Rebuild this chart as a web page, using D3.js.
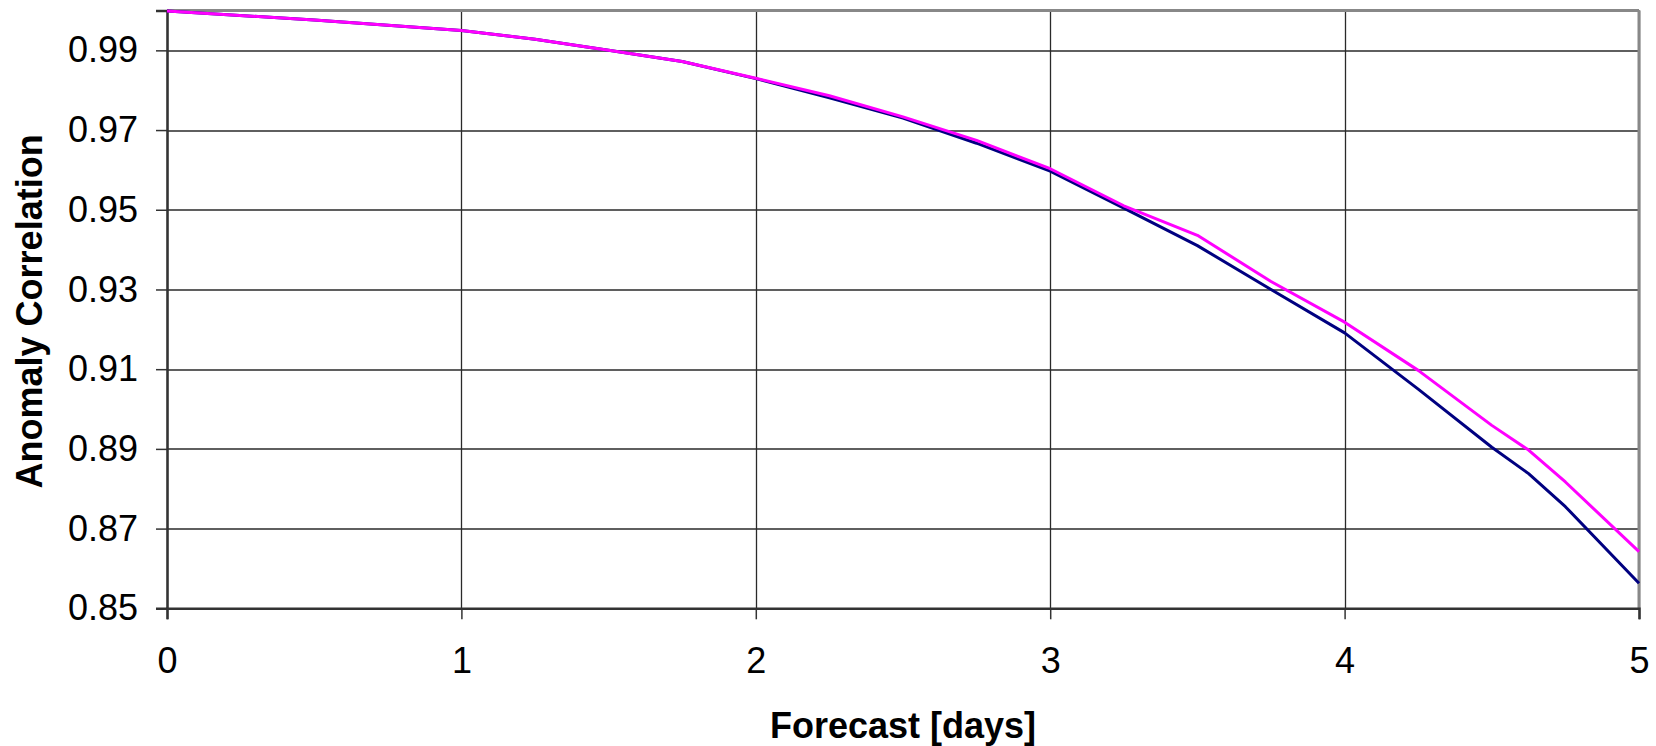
<!DOCTYPE html>
<html>
<head>
<meta charset="utf-8">
<script src="https://cdn.jsdelivr.net/npm/d3@7"></script>
<style>
  html, body { margin: 0; padding: 0; background: #fff; }
  svg { display: block; }
  text { font-family: "Liberation Sans", Arial, sans-serif; fill: #000; }
</style>
</head>
<body>
<svg id="chart" width="1656" height="746"></svg>
<script>
// ---- data ----
const days = [0, 0.5, 1, 1.25, 1.5, 1.75, 2, 2.25, 2.5, 2.75, 3, 3.25, 3.5, 3.75, 4, 4.25, 4.5, 4.625, 4.75, 5];
const seriesNavy = [0.9999, 0.9976, 0.9950, 0.9928, 0.9900, 0.9872, 0.9829, 0.9781, 0.9730, 0.9667, 0.9597, 0.9504, 0.9410, 0.9300, 0.9191, 0.9050, 0.8904, 0.8838, 0.8755, 0.8563];
const seriesMagenta = [0.9999, 0.9976, 0.9950, 0.9928, 0.9900, 0.9872, 0.9830, 0.9786, 0.9733, 0.9674, 0.9603, 0.9510, 0.9436, 0.9320, 0.9218, 0.9097, 0.8959, 0.8897, 0.8817, 0.8642];
const xTicks = [0, 1, 2, 3, 4, 5];
const yTicks = [0.85, 0.87, 0.89, 0.91, 0.93, 0.95, 0.97, 0.99];
const xTitle = "Forecast [days]";
const yTitle = "Anomaly Correlation";

// ---- layout ----
const W = 1656, H = 746;
const m = { left: 167, right: 17, top: 10.5, bottom: 137.7 };
const iw = W - m.left - m.right, ih = H - m.top - m.bottom;

const svg = d3.select("#chart");
const g = svg.append("g").attr("transform", `translate(${m.left},${m.top})`);

const x = d3.scaleLinear().domain([0, 5]).range([0, iw]);
const y = d3.scaleLinear().domain([0.85, 1.0]).range([ih, 0]);

// gridlines
g.append("g").selectAll("line").data(yTicks).join("line")
  .attr("x1", 0).attr("x2", iw)
  .attr("y1", d => Math.round(y(d)) + 0.5).attr("y2", d => Math.round(y(d)) + 0.5)
  .attr("stroke", "#2a2a2a").attr("stroke-width", 1.3);
g.append("g").selectAll("line").data(xTicks).join("line")
  .attr("y1", 0).attr("y2", ih)
  .attr("x1", d => Math.round(x(d)) + 0.5).attr("x2", d => Math.round(x(d)) + 0.5)
  .attr("stroke", "#2a2a2a").attr("stroke-width", 1.3);

// top & right border
g.append("line").attr("x1", 0).attr("x2", iw).attr("y1", 0).attr("y2", 0)
  .attr("stroke", "#888").attr("stroke-width", 3);
g.append("line").attr("x1", iw).attr("x2", iw).attr("y1", 0).attr("y2", ih)
  .attr("stroke", "#888").attr("stroke-width", 3);

// axes
const yAxis = d3.axisLeft(y).tickValues(yTicks).tickFormat(d3.format(".2f")).tickSize(11).tickPadding(18);
const xAxis = d3.axisBottom(x).tickValues(xTicks).tickFormat(d3.format("d")).tickSize(11).tickPadding(28);

const ya = g.append("g").call(yAxis);
ya.select(".domain").attr("stroke", "#333").attr("stroke-width", 2.5);
ya.selectAll(".tick line").attr("stroke", "#333").attr("stroke-width", 1.5);
ya.selectAll(".tick text").attr("font-size", 36).attr("font-family", "Liberation Sans, Arial, sans-serif").attr("fill", "#000");

const xa = g.append("g").attr("transform", `translate(0,${ih})`).call(xAxis);
xa.select(".domain").attr("stroke", "#333").attr("stroke-width", 2.5);
xa.selectAll(".tick line").attr("stroke", "#333").attr("stroke-width", 1.5);
xa.selectAll(".tick text").attr("font-size", 36).attr("font-family", "Liberation Sans, Arial, sans-serif").attr("fill", "#000");

// lines
const line = d3.line().x((d, i) => x(days[i])).y(d => y(d));
g.append("path").datum(seriesNavy).attr("d", line)
  .attr("fill", "none").attr("stroke", "#000080").attr("stroke-width", 3).attr("stroke-linejoin", "round");
g.append("path").datum(seriesMagenta).attr("d", line)
  .attr("fill", "none").attr("stroke", "#FF00FF").attr("stroke-width", 3).attr("stroke-linejoin", "round");

// titles
svg.append("text").attr("x", m.left + iw / 2).attr("y", 738)
  .attr("text-anchor", "middle").attr("font-size", 36).attr("font-weight", "bold").text(xTitle);
svg.append("text").attr("transform", `translate(42,${m.top + ih / 2 + 2}) rotate(-90)`)
  .attr("text-anchor", "middle").attr("font-size", 36).attr("font-weight", "bold").text(yTitle);
</script>
</body>
</html>
